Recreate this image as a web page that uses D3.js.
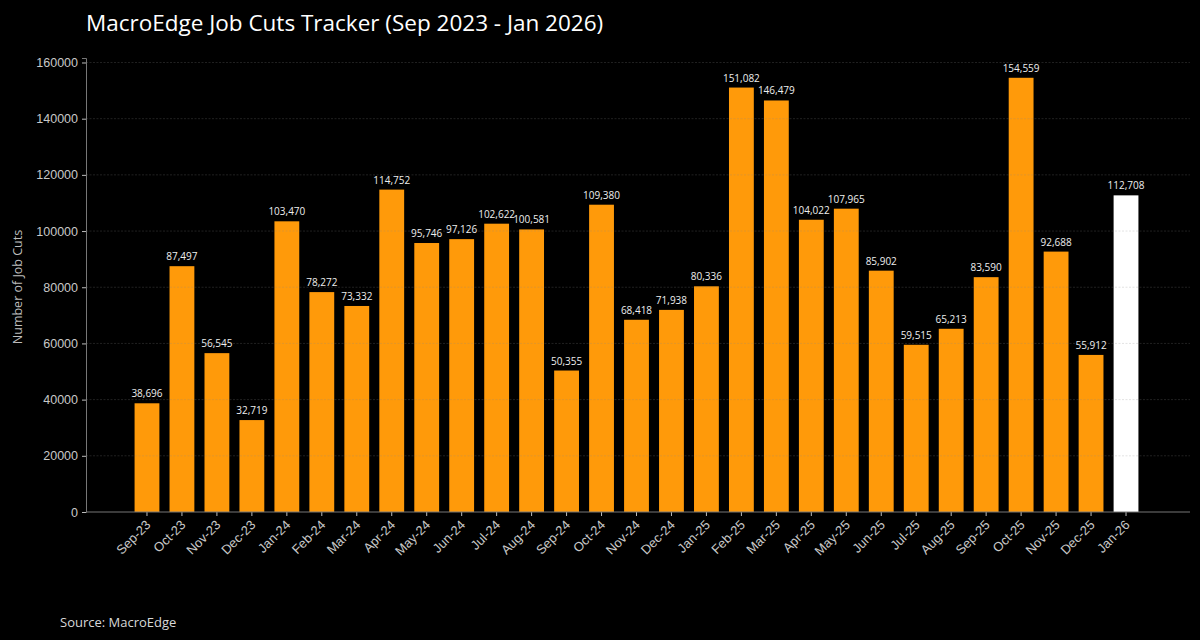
<!DOCTYPE html>
<html>
<head>
<meta charset="utf-8">
<script src="https://cdn.jsdelivr.net/npm/d3@7"></script>
<style>
  html, body { margin: 0; padding: 0; background: #000; }
  svg { display: block; font-family: "Open Sans", sans-serif; }
</style>
</head>
<body>
<div id="chart"></div>
<script>
// months and job cuts
var months = ["Sep-23","Oct-23","Nov-23","Dec-23","Jan-24","Feb-24","Mar-24","Apr-24","May-24","Jun-24",
              "Jul-24","Aug-24","Sep-24","Oct-24","Nov-24","Dec-24","Jan-25","Feb-25","Mar-25","Apr-25",
              "May-25","Jun-25","Jul-25","Aug-25","Sep-25","Oct-25","Nov-25","Dec-25","Jan-26"];
var cuts = [38696, 87497, 56545, 32719, 103470, 78272, 73332, 114752, 95746, 97126,
            102622, 100581, 50355, 109380, 68418, 71938, 80336, 151082, 146479, 104022,
            107965, 85902, 59515, 65213, 83590, 154559, 92688, 55912, 112708];
var yTicks = [0, 20000, 40000, 60000, 80000, 100000, 120000, 140000, 160000];

var width = 1200, height = 640;
var axisLeft = 86, axisRight = 1190, baseY = 512;

var svg = d3.select("#chart").append("svg")
    .attr("width", width)
    .attr("height", height);

svg.append("rect").attr("width", width).attr("height", height).attr("fill", "#000");

var x = d3.scaleBand()
    .domain(months)
    .range([129.5, 1143.5])
    .paddingInner(0.29)
    .paddingOuter(0.145);

var y = d3.scaleLinear()
    .domain([0, 161600])
    .range([baseY, 58]);

// bars
svg.append("g")
    .selectAll("rect")
    .data(months)
    .join("rect")
        .attr("x", function(d){ return x(d); })
        .attr("y", function(d, i){ return y(cuts[i]); })
        .attr("width", x.bandwidth())
        .attr("height", function(d, i){ return baseY - y(cuts[i]); })
        .attr("fill", function(d, i){ return i == months.length - 1 ? "#ffffff" : "#ff9a0a"; });

// grid (drawn over the bars, faint)
svg.append("g")
    .selectAll("line")
    .data(yTicks.slice(1))
    .join("line")
        .attr("x1", axisLeft).attr("x2", axisRight)
        .attr("y1", function(d){ return y(d); })
        .attr("y2", function(d){ return y(d); })
        .attr("stroke", "#8a8a8a")
        .attr("stroke-opacity", 0.3)
        .attr("stroke-width", 0.8)
        .attr("stroke-dasharray", "2,1.5");

// value labels
svg.append("g")
    .selectAll("text")
    .data(months)
    .join("text")
        .attr("x", function(d){ return x(d) + x.bandwidth()/2; })
        .attr("y", function(d, i){ return y(cuts[i]) - 6; })
        .attr("text-anchor", "middle")
        .attr("fill", "#eeeeee")
        .style("font-size", "10px")
        .text(function(d, i){ return d3.format(",")(cuts[i]); });

// y axis
var yAxis = svg.append("g")
    .attr("transform", "translate(" + axisLeft + ",0)")
    .call(d3.axisLeft(y).tickValues(yTicks).tickSize(4).tickPadding(4).tickFormat(d3.format("d")));
yAxis.select(".domain").attr("stroke", "#777");
yAxis.selectAll(".tick line").attr("stroke", "#bbb");
yAxis.selectAll(".tick text").attr("fill", "#c8c8c8").style("font-size", "12.5px");

// x axis
var xAxis = svg.append("g")
    .attr("transform", "translate(0," + baseY + ")")
    .call(d3.axisBottom(x).tickSize(4).tickPadding(3));
xAxis.select(".domain").remove();
svg.append("line")
    .attr("x1", axisLeft).attr("x2", axisRight)
    .attr("y1", baseY).attr("y2", baseY)
    .attr("stroke", "#777");
xAxis.selectAll(".tick line").attr("stroke", "#bbb");
xAxis.selectAll(".tick text")
    .attr("fill", "#c8c8c8")
    .style("font-size", "13px")
    .attr("text-anchor", "end")
    .attr("dx", "-0.5em")
    .attr("dy", "0.45em")
    .attr("transform", "rotate(-45)");

// y label
svg.append("text")
    .attr("transform", "translate(22,287) rotate(-90)")
    .attr("text-anchor", "middle")
    .attr("fill", "#bdbdbd")
    .style("font-size", "12.5px")
    .text("Number of Job Cuts");

// title
svg.append("text")
    .attr("x", 86).attr("y", 31)
    .attr("fill", "#ffffff")
    .style("font-size", "22.5px")
    .text("MacroEdge Job Cuts Tracker (Sep 2023 - Jan 2026)");

// source
svg.append("text")
    .attr("x", 60).attr("y", 627)
    .attr("fill", "#d8d8d8")
    .style("font-size", "13px")
    .text("Source: MacroEdge");
</script>
</body>
</html>
